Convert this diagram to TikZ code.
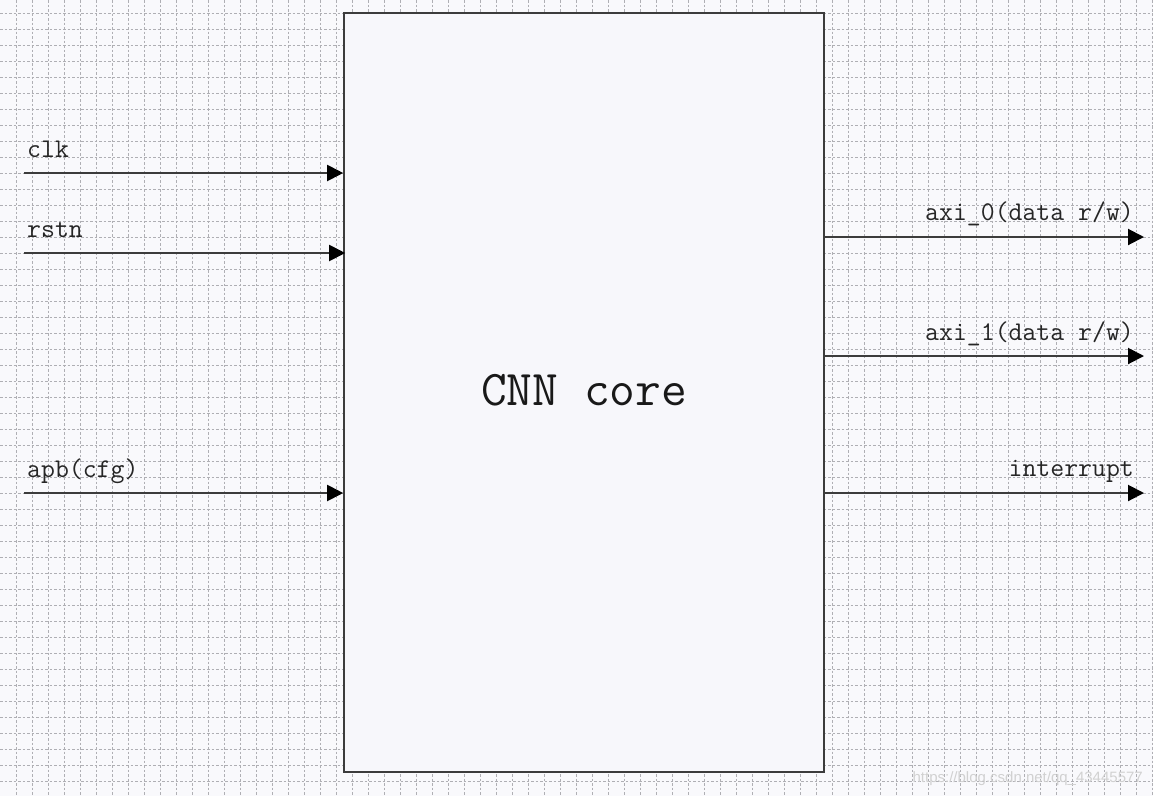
\documentclass[tikz,border=0pt]{standalone}
\usepackage{fontspec}
\newfontfamily\wmfont{Liberation Sans}
\usetikzlibrary{arrows.meta}
\definecolor{bgc}{RGB}{249,249,252}
\definecolor{boxc}{RGB}{247,247,251}
\definecolor{linec}{RGB}{60,60,60}
\definecolor{gridc}{RGB}{175,175,180}
\tikzset{
  gridline/.style={draw=gridc, line width=0.9pt, dash pattern=on 2.5pt off 2pt},
  sig/.style={draw=linec, line width=2pt, -{Triangle[length=16pt,width=16pt,fill=black,color=black]}},
  lbl/.style={font=\ttfamily\fontsize{27}{31}\selectfont, text=black!85, inner sep=0pt},
  corebox/.style={draw=linec, line width=1.6pt, fill=boxc, minimum width=480pt, minimum height=759pt, inner sep=0pt}
}
\begin{document}
\begin{tikzpicture}[x=1pt,y=-1pt]
\path[fill=bgc] (0,0) rectangle (1153,796);
\useasboundingbox (0,0) rectangle (1153,796);
% grid
\foreach \i in {1,...,72} { \draw[gridline] (16*\i,0) -- (16*\i,796); }
\foreach \j in {0,...,49} { \draw[gridline] (0,13+16*\j) -- (1153,13+16*\j); }
% core box
\node[corebox] (core) at (584,392.5) {};
\node[font=\ttfamily\fontsize{50}{56}\selectfont, text=black!90, anchor=base, inner sep=0pt] (coreL) at (584,405) {CNN core};
% input coordinates
\coordinate (clkS) at (24,173);
\coordinate (rstS) at (24,253);
\coordinate (apbS) at (24,493);
\draw[sig] (clkS) -- (clkS -| core.west);
\draw[sig] (rstS) -- ([xshift=2pt]rstS -| core.west);
\draw[sig] (apbS) -- (apbS -| core.west);
\node[lbl, anchor=base west] (clkL) at (27,157) {clk};
\node[lbl, anchor=base west] (rstL) at (27,237) {rstn};
\node[lbl, anchor=base west] (apbL) at (27,477) {apb(cfg)};
% outputs
\coordinate (ax0E) at (1144,237);
\coordinate (ax1E) at (1144,356);
\coordinate (intE) at (1144,493);
\draw[sig] (ax0E -| core.east) -- (ax0E);
\draw[sig] (ax1E -| core.east) -- (ax1E);
\draw[sig] (intE -| core.east) -- (intE);
\node[lbl, anchor=base east] (ax0L) at (1134,220) {axi\_0(data r/w)};
\node[lbl, anchor=base east] (ax1L) at (1134,340) {axi\_1(data r/w)};
\node[lbl, anchor=base east] (intL) at (1134,476) {interrupt};
% watermark
\node[font=\wmfont\fontsize{15}{17}\selectfont, text=black!18, anchor=base east, inner sep=0pt] (wm) at (1143,782) {https://blog.csdn.net/qq\_43445577};
\end{tikzpicture}
\end{document}
